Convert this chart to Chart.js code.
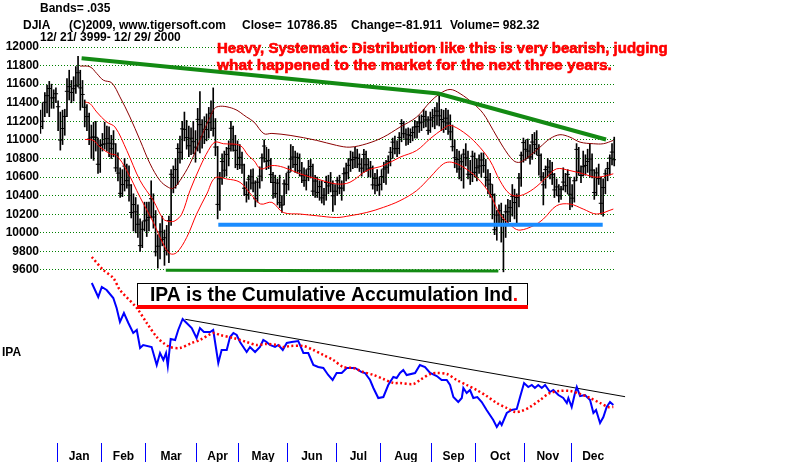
<!DOCTYPE html>
<html><head><meta charset="utf-8">
<script src="https://cdn.jsdelivr.net/npm/chart.js@4"></script>
<style>html,body{margin:0;padding:0;background:#fff;overflow:hidden}canvas{display:block}</style>
</head><body>
<canvas id="c" width="800" height="462"></canvas>
<script>
// ---- DATA (trading-day index 0 = 12/21/1999) ----
const monthNames = ['Jan','Feb','Mar','Apr','May','Jun','Jul','Aug','Sep','Oct','Nov','Dec'];
const monthStart = [8,28,48,71,90,112,134,154,177,197,219,240];
const priceTicks = [9600,9800,10000,10200,10400,10600,10800,11000,11200,11400,11600,11800,12000];

const closes = [11144,11200,11405,11476,11553,11452,11453,11497,
11357,10998,11123,11253,11523,11573,11511,11551,11582,11723,11560,11489,11351,11251,11009,11029,11032,11028,10738,10941,
10952,10957,11013,10964,10905,10957,10699,10643,10425,10519,10718,10561,10514,10219,10304,10226,10092,9862,10038,10128,
10137,10165,10367,10170,9796,9856,10010,9929,9947,9812,10132,10630,10595,10681,10907,10867,11119,11113,11025,10937,11018,10981,10922,
11221,11164,11033,11115,11111,11186,11287,11125,10923,10306,10582,10767,10674,10844,10906,11125,10945,10888,10734,
10812,10731,10480,10412,10577,10603,10536,10367,10545,10610,10807,10934,10770,10777,10627,10542,10422,10535,10324,10299,10527,10522,
10652,10794,10815,10735,10812,10668,10614,10565,10621,10687,10714,10449,10557,10435,10497,10376,10404,10542,10505,10527,10399,10448,
10560,10483,10481,10636,10646,10727,10784,10788,10812,10804,10739,10696,10844,10733,10687,10699,10516,10586,10511,10522,
10606,10687,10706,10767,10867,10976,10905,10908,11027,11176,11067,11008,11055,11046,11079,11139,11144,11183,11192,11252,11215,11103,11215,
11238,11260,11310,11259,11220,11195,11234,11182,11087,10927,10808,10789,10687,10765,10847,10808,10631,10628,10824,10651,
10700,10719,10784,10724,10597,10568,10524,10413,10034,10192,10238,10089,10142,10226,10226,10271,10393,10326,10380,10590,10835,10971,
10899,10880,10817,10977,10952,10907,10834,10602,10517,10681,10707,10656,10629,10462,10494,10399,10470,10546,10507,10629,10415,
10373,10560,10898,10664,10617,10712,10725,10768,10794,10675,10434,10645,10584,10318,10487,10635,10692,10804,10869,10787];

const highs = [11320,11400,11510,11590,11630,11600,11540,11560,
11420,11300,11320,11330,11660,11750,11640,11680,11790,11900,11750,11640,11430,11380,11290,11160,11190,11200,11020,11000,
11070,11190,11150,11140,11050,11100,10960,10860,10700,10680,10800,10740,10720,10520,10420,10380,10300,10150,10120,10330,
10330,10330,10560,10420,10240,9980,10100,10180,10030,10080,10180,10680,10720,10800,10960,11040,11200,11300,11210,11150,11130,11200,11100,
11340,11520,11220,11250,11280,11350,11420,11560,11230,10930,10650,10850,10880,10920,10990,11200,11150,11050,10990,
10950,10870,10740,10550,10620,10680,10690,10560,10590,10710,10850,11000,10920,10900,10800,10650,10620,10580,10620,10400,10570,10640,
10720,10950,10930,10880,10860,10850,10760,10700,10680,10780,10790,10740,10620,10600,10560,10560,10480,10610,10620,10650,10560,10520,
10600,10620,10560,10700,10750,10800,10880,10870,10920,10900,10850,10800,10900,10880,10800,10770,10720,10640,10680,10600,
10680,10760,10780,10830,10920,11020,11040,10990,11080,11220,11200,11120,11130,11120,11140,11210,11200,11260,11270,11330,11310,11250,11300,
11330,11350,11400,11500,11330,11320,11340,11320,11270,11160,11000,10900,10880,10840,10900,10960,10880,10780,10880,10860,
10800,10840,10860,10860,10790,10680,10640,10520,10420,10240,10300,10320,10200,10300,10360,10350,10520,10470,10420,10640,10870,11020,
11000,11010,10950,11060,11080,11100,10950,10850,10650,10720,10800,10780,10760,10640,10580,10520,10500,10700,10640,10680,10600,
10520,10600,10960,10920,10720,10880,10840,10900,10960,10850,10680,10700,10740,10600,10580,10680,10760,10840,10960,11030];

const lows = [11070,11120,11250,11290,11250,11340,11340,11400,
11100,10890,10950,11050,11250,11430,11400,11420,11500,11570,11320,11350,11140,11100,10950,10800,10780,10880,10640,10650,
10880,10900,10880,10820,10800,10820,10660,10560,10380,10390,10450,10480,10340,10160,10020,10000,9950,9800,9840,10020,
9960,10020,10160,10050,9750,9620,9720,9860,9650,9760,9680,10080,10430,10480,10520,10750,10790,10990,10900,10820,10840,10850,10760,
10880,10860,10910,10960,10990,11020,11100,11040,10830,10150,10240,10520,10600,10610,10720,10880,10880,10700,10680,
10690,10640,10400,10330,10360,10470,10440,10280,10330,10480,10560,10760,10680,10690,10540,10370,10380,10300,10270,10220,10300,10420,
10460,10660,10700,10650,10640,10610,10540,10500,10460,10560,10590,10400,10380,10380,10350,10320,10300,10350,10420,10440,10230,10300,
10400,10420,10350,10450,10560,10580,10660,10690,10700,10700,10660,10610,10650,10660,10600,10600,10470,10420,10450,10400,
10460,10540,10520,10640,10720,10800,10850,10820,10850,10980,11020,10940,10950,10970,10990,11020,11020,11080,11100,11130,11140,11060,11080,
11140,11120,11160,11150,11100,11080,11110,11060,11000,10880,10700,10650,10580,10560,10480,10720,10580,10520,10550,10600,
10560,10640,10600,10650,10500,10420,10380,10150,9980,9920,10080,9900,9580,9950,10100,10120,10180,10150,10100,10280,10500,10760,
10780,10800,10740,10790,10850,10840,10620,10560,10300,10480,10600,10580,10520,10380,10400,10330,10360,10460,10440,10420,10250,
10280,10330,10560,10620,10540,10610,10620,10650,10600,10590,10360,10400,10520,10200,10180,10420,10560,10620,10730,10720];

// 3.5% bands: [day, price]
const upperBand = [[17.9,11795],[22.4,11787],[25.4,11716],[28.4,11643],[32.2,11614],[35.9,11463],[40.4,11247],[45.0,10995],[49.5,10743],[54.0,10562],[57.7,10490],[60.0,10479],[63.0,10562],[67.5,10743],[72.0,10995],[76.6,11246],[79.6,11355],[87.1,11337],[93.1,11246],[96.4,11192],[100.9,11067],[104.5,11070],[112.7,11049],[124.7,10995],[133.7,10941],[139.7,10922],[147.3,10959],[154.8,11030],[162.3,11138],[169.8,11246],[175.9,11409],[180.4,11499],[184.9,11543],[189.4,11499],[195.4,11391],[199.9,11283],[204.4,11103],[208.9,10922],[213.5,10778],[216.5,10760],[221.0,10832],[225.5,10922],[230.0,11013],[234.5,11056],[239.0,11030],[243.6,10976],[249.6,10959],[254.1,10959],[258.6,10995]];
const middleBand = [[20.1,11409],[22.4,11391],[25.4,11301],[29.9,11192],[33.7,11138],[39.0,10886],[45.0,10562],[51.0,10346],[55.5,10148],[58.5,10122],[60.8,10130],[63.8,10202],[67.5,10454],[72.0,10706],[75.8,10886],[78.8,10976],[82.6,10959],[90.1,10941],[93.8,10832],[96.4,10778],[99.4,10689],[104.5,10724],[109.6,10706],[117.2,10635],[124.7,10581],[133.7,10526],[139.7,10544],[147.3,10670],[154.8,10724],[162.3,10814],[169.8,10886],[175.9,11013],[181.9,11121],[184.9,11157],[190.9,11084],[196.9,10959],[202.9,10778],[207.4,10562],[211.9,10418],[216.5,10400],[222.5,10472],[228.5,10598],[233.0,10689],[239.0,10670],[245.0,10635],[251.1,10598],[258.6,10635]];
const lowerBand = [[20.1,11005],[23.9,10995],[26.9,10922],[31.4,10851],[34.4,10832],[39.0,10670],[45.0,10382],[51.0,10111],[55.5,9878],[58.5,9776],[61.5,9787],[66.0,9949],[70.5,10202],[75.1,10418],[78.8,10591],[84.1,10580],[90.1,10544],[94.9,10418],[99.4,10310],[104.5,10328],[109.6,10219],[117.2,10202],[124.7,10184],[133.7,10165],[139.7,10184],[147.3,10219],[154.8,10274],[162.3,10346],[169.8,10454],[175.9,10598],[181.9,10743],[185.6,10760],[190.9,10706],[196.9,10598],[202.9,10418],[207.4,10202],[213.5,10057],[216.5,10029],[222.5,10076],[227.0,10148],[233.0,10292],[239.0,10310],[245.0,10256],[251.1,10202],[258.6,10256]];

// drawn trend lines: [day, price]
const resistanceLine = [[18.6,11878],[179.6,11500],[255.3,11005]];
const supportLine = [[80.3,10086],[253.8,10086]];
const bottomLine = [[56.6,9598],[206.7,9590]];

// IPA (cumulative accumulation) in chart units: [day, value]
const ipa = [[23.2,160],[26.1,146],[27.7,156],[29.9,153],[32.9,145],[34.4,135],[35.9,121],[37.7,130],[39.7,120],[41.9,110],[43.5,113],[45.0,95],[46.4,98],[50.2,96],[52.5,78],[54.0,90],[55.5,83],[56.7,90],[57.5,77],[58.8,104],[60.8,103],[62.2,113],[64.2,124],[66.0,120],[68.3,115],[70.5,105],[72.0,115],[73.8,111],[76.6,111],[78.0,113],[80.3,80],[81.8,93],[84.1,93],[85.6,106],[87.1,110],[88.6,108],[90.1,101],[93.1,91],[94.6,96],[96.9,91],[99.1,96],[100.6,103],[102.1,101],[103.6,98],[105.9,96],[107.4,98],[109.4,93],[111.2,100],[113.4,101],[116.4,102],[118.7,90],[120.9,90],[123.2,78],[125.4,76],[127.7,75],[129.9,68],[131.9,63],[133.7,70],[136.0,70],[138.3,75],[142.0,75],[145.0,71],[146.5,70],[148.8,63],[150.3,55],[152.5,45],[154.8,46],[157.0,58],[159.3,66],[160.8,65],[162.3,70],[163.8,73],[165.3,68],[169.1,70],[171.3,78],[173.6,76],[175.9,70],[178.9,67],[181.1,63],[183.4,63],[184.9,58],[186.4,46],[188.6,41],[190.2,45],[190.9,55],[192.4,50],[193.9,53],[195.4,45],[197.2,46],[199.2,41],[201.4,33],[204.4,23],[206.0,16],[207.4,21],[208.2,18],[210.5,30],[212.7,33],[215.0,34],[216.5,46],[218.3,60],[220.2,56],[221.8,58],[223.2,55],[224.7,58],[226.3,55],[227.8,58],[230.0,51],[231.5,53],[233.8,48],[236.0,45],[237.6,40],[238.3,45],[239.8,36],[241.3,50],[242.1,56],[243.6,47],[245.8,48],[248.1,43],[249.6,30],[250.8,33],[252.6,20],[254.1,26],[255.6,36],[257.1,41],[258.6,38]];
const ipaAverage = [[23.2,186],[28.4,173],[32.9,165],[35.9,153],[43.5,135],[48.0,120],[52.5,106],[55.5,100],[58.5,96],[63.0,95],[68.3,100],[72.0,103],[78.0,110],[81.1,108],[87.1,105],[93.1,101],[97.6,98],[102.1,99],[106.7,98],[109.6,96],[112.7,97],[118.7,97],[123.2,93],[127.7,88],[132.2,83],[136.7,76],[141.2,75],[145.7,71],[150.3,68],[154.8,64],[159.3,60],[162.3,60],[168.3,59],[171.3,63],[175.9,69],[178.9,70],[183.4,69],[187.9,63],[192.4,58],[196.9,53],[201.4,47],[206.0,40],[210.5,35],[214.2,31],[217.2,32],[221.0,36],[225.5,43],[230.0,50],[234.5,52],[239.0,52],[243.6,49],[248.1,45],[252.6,40],[256.3,36],[258.6,36]];
const ipaTrend = [[65.4,123.7],[263.9,46.3]];

// ---- CHART ----
const FONT = "'Liberation Sans', Arial, sans-serif";
const pts = arr => arr.map(p => ({x: p[0], y: p[1]}));
const tickDefs = [];
monthStart.forEach((s, k) => {
  const b = s - 0.5;
  const e = (k + 1 < monthStart.length ? monthStart[k + 1] : closes.length) - 0.5;
  tickDefs.push({value: b, label: ''});
  tickDefs.push({value: (b + e) / 2, label: monthNames[k]});
});

function fitFont(ctx, text, size, target, weight) {
  ctx.font = weight + ' ' + size + 'px ' + FONT;
  const w = ctx.measureText(text).width;
  const s = size * target / w;
  ctx.font = weight + ' ' + s.toFixed(2) + 'px ' + FONT;
}

const overlay = {
  id: 'overlay',
  afterDatasetsDraw(chart) {
    const ctx = chart.ctx;
    ctx.save();
    // IPA caption box
    ctx.fillStyle = '#fff';
    ctx.fillRect(137.5, 283.5, 390, 22);
    ctx.strokeStyle = '#000';
    ctx.lineWidth = 1;
    ctx.strokeRect(137.5, 283.5, 390, 22);
    ctx.fillStyle = '#ff0000';
    ctx.fillRect(137, 305, 391, 4);
    const cap = 'IPA is the Cumulative Accumulation Ind';
    fitFont(ctx, cap, 18, 363, 'bold');
    ctx.textBaseline = 'middle';
    ctx.textAlign = 'left';
    ctx.fillStyle = '#000';
    ctx.fillText(cap, 150, 296);
    const w = ctx.measureText(cap).width;
    ctx.fillStyle = '#ff0000';
    ctx.fillText('.', 150 + w, 296);
    ctx.restore();
  },
  afterDraw(chart) {
    const ctx = chart.ctx;
    ctx.save();
    ctx.textBaseline = 'middle';
    ctx.textAlign = 'left';
    ctx.fillStyle = '#000';
    ctx.font = 'bold 12px ' + FONT;
    ctx.fillText('Bands= .035', 40, 9);
    ctx.fillText('DJIA', 23, 25.5);
    ctx.fillText('(C)2009, www.tigersoft.com', 69, 25.5);
    ctx.fillText('Close=', 242, 25.5);
    ctx.fillText('10786.85', 287, 25.5);
    ctx.fillText('Change=-81.911', 351, 25.5);
    ctx.fillText('Volume= 982.32', 450, 25.5);
    ctx.fillText('12/ 21/ 3999- 12/ 29/ 2000', 40, 38);
    ctx.fillText('IPA', 2, 353);
    ctx.fillStyle = '#ff0000';
    ctx.strokeStyle = '#ff0000';
    ctx.lineWidth = 0.6;
    const l1 = 'Heavy, Systematic Distribution like this is very bearish, judging';
    const l2 = 'what happened to the market for the next three years.';
    fitFont(ctx, l1, 14, 451, 'bold');
    ctx.fillText(l1, 217, 48.5);
    ctx.strokeText(l1, 217, 48.5);
    fitFont(ctx, l2, 14, 395, 'bold');
    ctx.fillText(l2, 217, 66);
    ctx.strokeText(l2, 217, 66);
    ctx.restore();
  }
};

new Chart(document.getElementById('c'), {
  type: 'bar',
  data: {
    datasets: [
      {type: 'bar', data: closes.map((c, i) => ({x: i, y: [lows[i], highs[i]]})), backgroundColor: '#000',
       barThickness: 1, yAxisID: 'y', order: 10},
      {type: 'scatter', data: closes.map((c, i) => ({x: i, y: c})), pointStyle: 'line', pointRadius: 2.2,
       borderColor: '#000', borderWidth: 1, yAxisID: 'y', order: 9},
      {type: 'line', data: pts(upperBand), borderColor: '#8b0000', borderWidth: 1, pointRadius: 0, tension: 0.35, yAxisID: 'y', order: 5},
      {type: 'line', data: pts(middleBand), borderColor: '#ff0000', borderWidth: 1, pointRadius: 0, tension: 0.35, yAxisID: 'y', order: 5},
      {type: 'line', data: pts(lowerBand), borderColor: '#ff0000', borderWidth: 1, pointRadius: 0, tension: 0.35, yAxisID: 'y', order: 5},
      {type: 'line', data: pts(resistanceLine), borderColor: '#138a13', borderWidth: 4, pointRadius: 0, yAxisID: 'y', order: 2},
      {type: 'line', data: pts(supportLine), borderColor: '#1a8cff', borderWidth: 4, pointRadius: 0, yAxisID: 'y', order: 2},
      {type: 'line', data: pts(bottomLine), borderColor: '#138a13', borderWidth: 3, pointRadius: 0, yAxisID: 'y', order: 2},
      {type: 'line', data: pts(ipaTrend), borderColor: '#000', borderWidth: 1, pointRadius: 0, yAxisID: 'y2', clip: false, order: 4},
      {type: 'line', data: pts(ipaAverage), borderColor: '#ff0000', borderWidth: 2.5, borderDash: [2, 2.5], pointRadius: 0, tension: 0.3, yAxisID: 'y2', order: 3},
      {type: 'line', data: pts(ipa), borderColor: '#0000ff', borderWidth: 2, pointRadius: 0, tension: 0, yAxisID: 'y2', order: 3}
    ]
  },
  options: {
    responsive: false, animation: false, devicePixelRatio: 1, events: [],
    layout: {padding: {top: 47, left: 0, right: 184, bottom: 0}},
    plugins: {legend: {display: false}, tooltip: {enabled: false}},
    scales: {
      x: {
        type: 'linear', min: -0.18, max: 259.8, offset: false, position: 'bottom',
        afterBuildTicks: s => { s.ticks = tickDefs.map(t => ({value: t.value})); },
        afterFit: s => { s.height = 19; },
        ticks: {autoSkip: false, maxRotation: 0, minRotation: 0, padding: -13, color: '#000',
                font: {family: FONT, size: 12, weight: 'bold'}, callback: (v, i) => tickDefs[i] ? tickDefs[i].label : ''},
        grid: {offset: false, drawOnChartArea: false, drawTicks: true, tickLength: 19, lineWidth: 1,
               tickColor: c => (tickDefs[c.index] && tickDefs[c.index].label === '') ? '#0000ff' : 'rgba(0,0,0,0)'},
        border: {display: false}
      },
      y: {
        type: 'linear', position: 'left', min: 7738, max: 12000,
        afterBuildTicks: s => { s.ticks = priceTicks.map(v => ({value: v})); },
        afterFit: s => { s.width = 40; },
        ticks: {autoSkip: false, padding: 1, color: '#000', font: {family: FONT, size: 12, weight: 'bold'}, callback: v => String(v)},
        grid: {color: '#008000', lineWidth: 1, drawTicks: false},
        border: {display: false, dash: [1, 2]}
      },
      y2: {type: 'linear', display: false, min: 0, max: 396}
    }
  },
  plugins: [overlay]
});
</script>
</body></html>
